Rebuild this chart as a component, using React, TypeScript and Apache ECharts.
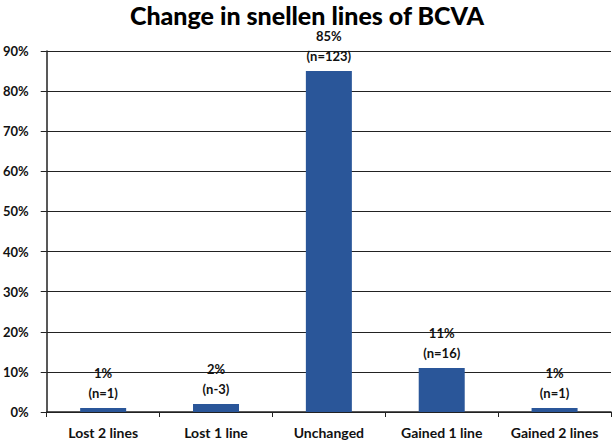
import React, { useEffect, useRef } from "react";
import * as echarts from "echarts";

const categories = ["Lost 2 lines", "Lost 1 line", "Unchanged", "Gained 1 line", "Gained 2 lines"];
const percents = [1, 2, 85, 11, 1];
const counts = ["(n=1)", "(n-3)", "(n=123)", "(n=16)", "(n=1)"];

export default function App() {
  const ref = useRef<HTMLDivElement>(null);
  useEffect(() => {
    const chart = echarts.init(ref.current!, null, { renderer: "svg" });
    chart.setOption({
      animation: false,
      backgroundColor: "#ffffff",
      title: {
        text: "Change in snellen lines of BCVA",
        left: "center",
        top: 1,
        padding: 0,
        textStyle: { fontFamily: "Lato", fontWeight: 900, fontSize: 25, lineHeight: 27, color: "#000" },
      },
      grid: { left: 42, right: 3, top: 51, bottom: 33, containLabel: false },
      xAxis: {
        type: "category",
        data: categories,
        axisLine: { lineStyle: { color: "#222", width: 1.5 } },
        axisTick: { show: true, alignWithLabel: false, interval: 0, length: 5, lineStyle: { color: "#222" } },
        axisLabel: { interval: 0, hideOverlap: false, color: "#111", fontFamily: "Lato", fontWeight: "bold", fontSize: 14, margin: 13 },
      },
      yAxis: {
        type: "value",
        min: 0,
        max: 90,
        interval: 10,
        axisLine: { show: true, lineStyle: { color: "#222", width: 1.5 } },
        axisTick: { show: true, length: 6, lineStyle: { color: "#222" } },
        axisLabel: { formatter: "{value}%", color: "#111", fontFamily: "Lato", fontWeight: "bold", fontSize: 13, margin: 18 },
        splitLine: { show: true, lineStyle: { color: "#222", width: 1.2 } },
      },
      series: [
        {
          type: "bar",
          data: percents,
          barWidth: 46,
          itemStyle: { color: "#2a5699" },
          label: {
            show: true,
            position: "top",
            distance: 5,
            color: "#111",
            fontFamily: "Lato",
            fontWeight: "bold",
            fontSize: 13,
            lineHeight: 20,
            formatter: (p: any) => `${p.value}%\n${counts[p.dataIndex]}`,
          },
        },
      ],
    });
    return () => chart.dispose();
  }, []);
  return <div ref={ref} style={{ width: 614, height: 445, position: "absolute", left: 0, top: 0 }} />;
}
